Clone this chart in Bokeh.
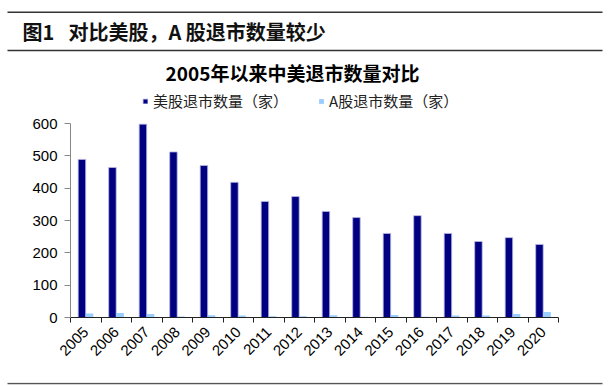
import math
from bokeh.plotting import figure
from bokeh.layouts import column
from bokeh.models import (ColumnDataSource, Range1d, FixedTicker, Legend, LegendItem, Label)
from bokeh.transform import dodge
from bokeh.core.properties import value
from bokeh.embed import file_html
from bokeh.resources import INLINE

# ---- data ----
years = [2005, 2006, 2007, 2008, 2009, 2010, 2011, 2012,
         2013, 2014, 2015, 2016, 2017, 2018, 2019, 2020]
year_labels = [str(y) for y in years]
us_delist = [489, 464, 598, 512, 470, 418, 359, 374,
             328, 309, 260, 315, 260, 235, 247, 226]
a_delist = [12, 14, 11, 3, 7, 6, 4, 4,
            7, 2, 8, 2, 6, 6, 11, 17]
y_ticks = [0, 100, 200, 300, 400, 500, 600]
series_names = ["美股退市数量（家）", "A股退市数量（家）"]
header_num = "图1"
header_text = "对比美股，A 股退市数量较少"
chart_title = "2005年以来中美退市数量对比"

CJK = "Noto Sans CJK SC"
LAT = "Liberation Sans"
W = 610

# ---- header figure: rules and caption (pixel coordinates) ----
H1 = 56
hdr = figure(width=W, height=H1, x_range=Range1d(0, W), y_range=Range1d(H1, 0),
             output_backend="svg", toolbar_location=None, frame_align=False,
             x_axis_location=None, y_axis_location=None,
             min_border=0, outline_line_color=None)
hdr.grid.visible = False
hdr.segment(x0=[7, 7], y0=[11.8, 50], x1=[602, 602], y1=[11.8, 50],
            line_color="#333333", line_width=1.6)
hdr.text(x=[22], y=[31], text=[header_num], text_font=value(CJK),
         text_font_style="bold", text_font_size="20px", text_color="#111111",
         text_baseline="middle", text_align="left")
hdr.text(x=[68], y=[31], text=[header_text], text_font=value(CJK),
         text_font_style="bold", text_font_size="20px", text_color="#111111",
         text_baseline="middle", text_align="left")

# ---- main chart ----
H2 = 322
BORDER_BOTTOM = 61
FRAME_H = H2 - BORDER_BOTTOM
PX_PER_600 = 194          # pixel height of the 0..600 span
y_top = 600 * FRAME_H / PX_PER_600

src = ColumnDataSource(dict(year=years, us=us_delist, a=a_delist))
p = figure(width=W, height=H2,
           x_range=Range1d(years[0] - 0.5, years[-1] + 0.5),
           y_range=Range1d(0, y_top),
           output_backend="svg", toolbar_location=None, frame_align=False,
           min_border_left=70, min_border_right=52,
           min_border_top=0, min_border_bottom=BORDER_BOTTOM,
           outline_line_color=None)
p.grid.visible = False

r_us = p.vbar(x=dodge("year", -0.125, range=p.x_range), top="us", width=0.245,
              source=src, fill_color="#000080", line_color="#b8b8e6", line_width=0.8)
r_a = p.vbar(x=dodge("year", 0.125, range=p.x_range), top="a", width=0.245,
             source=src, fill_color="#99ccff", line_color=None)

# y axis (line stops at 600)
p.yaxis.ticker = FixedTicker(ticks=y_ticks)
p.yaxis.bounds = (y_ticks[0], y_ticks[-1])
p.yaxis.axis_line_color = "#888888"
p.yaxis.major_tick_line_color = "#888888"
p.yaxis.major_tick_out = 6
p.yaxis.major_tick_in = 0
p.yaxis.minor_tick_line_color = None
p.yaxis.major_label_text_font = LAT
p.yaxis.major_label_text_font_size = "15px"
p.yaxis.major_label_text_color = "#000000"
p.yaxis.major_label_standoff = 7

# x axis: labels at year centres, ticks at category boundaries
boundaries = [y - 0.5 for y in years] + [years[-1] + 0.5]
p.xaxis.ticker = FixedTicker(ticks=years, minor_ticks=boundaries)
p.xaxis.major_label_overrides = {y: s for y, s in zip(years, year_labels)}
p.xaxis.axis_line_color = "#222222"
p.xaxis.major_tick_line_color = None
p.xaxis.major_tick_out = 0
p.xaxis.major_tick_in = 0
p.xaxis.minor_tick_line_color = "#222222"
p.xaxis.minor_tick_out = 5
p.xaxis.minor_tick_in = 0
p.xaxis.major_label_orientation = math.pi / 4
p.xaxis.major_label_text_font = LAT
p.xaxis.major_label_text_font_size = "15px"
p.xaxis.major_label_text_color = "#000000"
p.xaxis.major_label_standoff = 7

# chart title, inside the (extended) frame
p.add_layout(Label(x=years[0] - 0.5 + (292 - 70) / 30.5, y=(FRAME_H - 16) * 600 / PX_PER_600,
                   text=chart_title, text_font=CJK, text_font_style="bold",
                   text_font_size="19px", text_color="#000000",
                   text_baseline="middle", text_align="center"))

legend = Legend(items=[LegendItem(label=series_names[0], renderers=[r_us]),
                       LegendItem(label=series_names[1], renderers=[r_a])],
                location=(72, 206), orientation="horizontal",
                glyph_width=6, glyph_height=6, label_standoff=5, spacing=30,
                padding=0, margin=0, border_line_color=None,
                background_fill_alpha=0,
                label_text_font=CJK, label_text_font_size="15px",
                label_text_color="#222222", label_height=14)
p.add_layout(legend, "center")

# ---- footer rule ----
H3 = 8
ftr = figure(width=W, height=H3, x_range=Range1d(0, W), y_range=Range1d(H3, 0),
             output_backend="svg", toolbar_location=None, frame_align=False,
             x_axis_location=None, y_axis_location=None,
             min_border=0, outline_line_color=None)
ftr.grid.visible = False
ftr.segment(x0=[7], y0=[1.0], x1=[602], y1=[1.0], line_color="#555555", line_width=1.5)

page = column(hdr, p, ftr, spacing=0)
open("out.html", "w").write(file_html(page, INLINE))
